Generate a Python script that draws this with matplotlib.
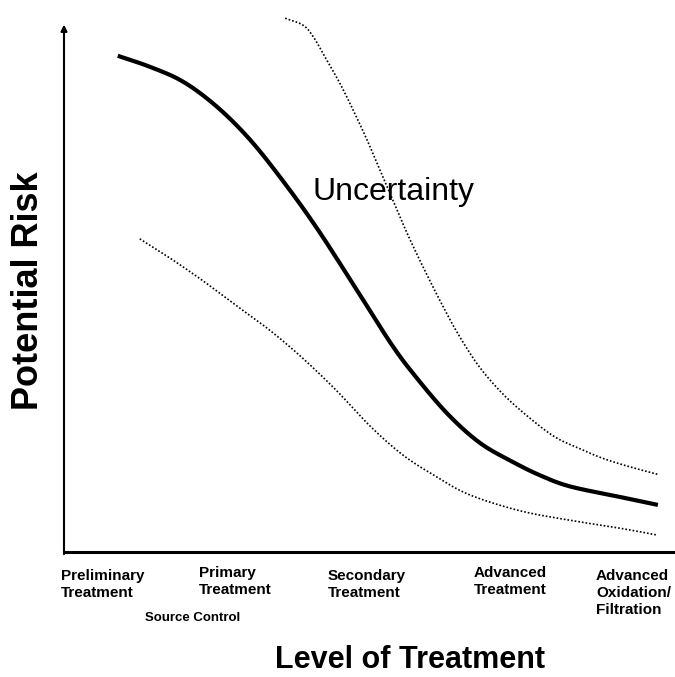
import matplotlib
matplotlib.use("Agg")
import matplotlib.pyplot as plt
import numpy as np

plt.rcParams["font.family"] = ["Liberation Sans", "DejaVu Sans"]

# curves, x = level of treatment (0-100), y = risk (0-100)
risk_x = [8.8, 14.1, 19.5, 25.0, 30.4, 35.8, 41.4, 48.0, 53.4, 57.1, 62.7, 68.1, 73.5, 77.9, 82.8, 91.0, 97.2]
risk_y = [93.8, 91.7, 88.9, 84.2, 78.0, 70.2, 61.2, 49.4, 39.6, 33.8, 26.2, 20.6, 17.0, 14.5, 12.4, 10.4, 8.9]

upper_x = [36.2, 39.1, 40.8, 43.0, 45.2, 47.3, 49.6, 51.7, 53.8, 56.1, 58.8, 61.5, 64.3, 67.6, 70.9,
           74.6, 80.0, 84.5, 88.2, 92.6, 97.1]
upper_y = [100.9, 99.6, 97.4, 93.0, 88.5, 83.6, 77.9, 72.2, 66.6, 60.4, 53.8, 47.6, 41.6, 35.6, 31.0,
           26.9, 22.0, 19.5, 17.7, 16.1, 14.7]

lower_x = [12.4, 17.3, 22.7, 28.3, 33.7, 39.1, 44.7, 50.1, 55.5, 61.0, 66.4, 74.6, 82.8, 91.0, 97.1]
lower_y = [59.2, 55.6, 51.3, 46.5, 41.9, 36.6, 30.4, 23.8, 18.3, 14.2, 10.8, 7.8, 6.0, 4.5, 3.2]

categories = ["Preliminary\nTreatment", "Primary\nTreatment", "Secondary\nTreatment",
              "Advanced\nTreatment", "Advanced\nOxidation/\nFiltration"]
cat_left = [61, 199, 328, 474, 596]   # pixel x of label left edge
cat_top = [569, 566, 569, 566, 569]   # pixel y of label top


def smooth(xs, ys, n=20):
    # catmull-rom through the read points so the drawn curve has no kinks
    p = np.column_stack([xs, ys]).astype(float)
    p = np.vstack([2 * p[0] - p[1], p, 2 * p[-1] - p[-2]])
    out = []
    t = np.linspace(0, 1, n, endpoint=False)[:, None]
    for i in range(1, len(p) - 2):
        p0, p1, p2, p3 = p[i - 1], p[i], p[i + 1], p[i + 2]
        seg = 0.5 * ((2 * p1) + (-p0 + p2) * t + (2 * p0 - 5 * p1 + 4 * p2 - p3) * t ** 2
                     + (-p0 + 3 * p1 - 3 * p2 + p3) * t ** 3)
        out.append(seg)
    out.append(p[-2][None, :])
    out = np.vstack(out)
    return out[:, 0], out[:, 1]


W, H = 675, 677
fig = plt.figure(figsize=(W / 100, H / 100), dpi=100)
ax = fig.add_axes([64 / W, (H - 552) / H, (W - 64) / W, (552 - 23) / H])
ax.set_xlim(0, 100)
ax.set_ylim(0, 100)

ax.plot(*smooth(risk_x, risk_y), color="black", lw=3.0, solid_capstyle="butt")
ax.plot(*smooth(upper_x, upper_y), color="black", lw=1.2, linestyle=(0, (1, 1.2)), clip_on=False)
ax.plot(*smooth(lower_x, lower_y), color="black", lw=1.2, linestyle=(0, (1, 1.2)))

ax.text(40.7, 66.5, "Uncertainty", fontsize=23, va="baseline", ha="left")

for s in ["top", "right", "left"]:
    ax.spines[s].set_visible(False)
ax.spines["bottom"].set_linewidth(2.2)
ax.annotate("", xy=(0, 0.997), xytext=(0, -0.004), xycoords="axes fraction",
            arrowprops=dict(arrowstyle="-|>", lw=1.5, color="black", mutation_scale=9,
                            shrinkA=0, shrinkB=0))
ax.set_xticks([])
ax.set_yticks([])

for lab, xl, yt in zip(categories, cat_left, cat_top):
    fig.text(xl / W, 1 - yt / H, lab, fontsize=11, fontweight="bold", ha="left", va="top",
             linespacing=1.25)
fig.text(145 / W, 1 - 612 / H, "Source Control", fontsize=9.5, fontweight="bold", ha="left", va="top")

fig.text(410 / W, 1 - 660 / H, "Level of Treatment", fontsize=22, fontweight="bold",
         ha="center", va="center")
fig.text(29 / W, 1 - 291 / H, "Potential Risk", fontsize=26, fontweight="bold",
         ha="center", va="center", rotation=90)

fig.savefig("out.png", dpi=100)
